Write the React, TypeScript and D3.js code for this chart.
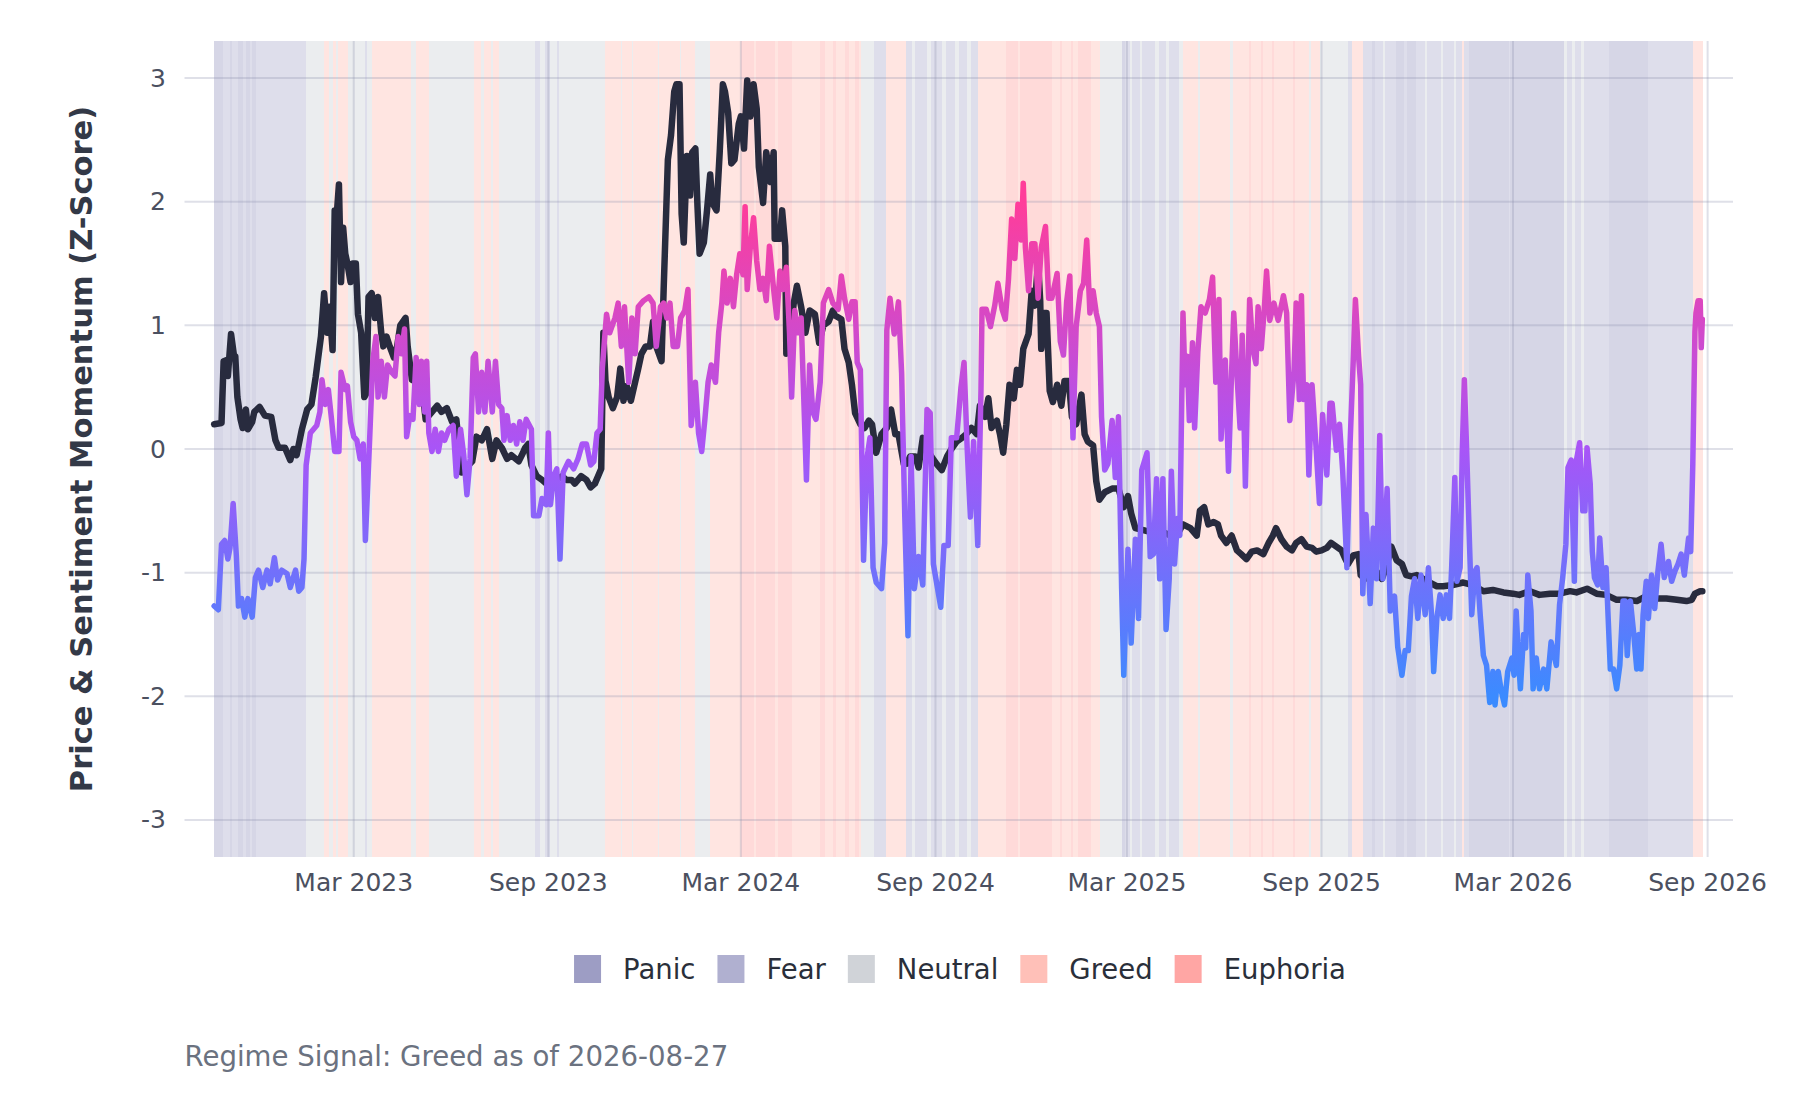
import * as d3 from "d3";
import { useMemo } from "react";

const W = 1800;
const H = 1100;
const margin = { top: 41, right: 67, bottom: 243, left: 184.5 };

// daily series, day 0 = 2022-10-20
const START_DATE = "2022-10-20";
const LAST_DAY = 1407;

const priceDays = [
  0, 7, 9, 12, 13, 16, 19, 20, 22, 25, 27, 30, 32, 36, 38, 43, 48, 54, 58, 61, 67, 72, 75, 78, 83, 88, 92, 96,
  101, 104, 107, 109, 112, 114, 116, 118, 120, 122, 124, 126, 129, 131, 134, 136, 139, 142, 144, 146, 149, 152,
  155, 158, 160, 163, 166, 170, 173, 176, 181, 183, 187, 192, 196, 200, 203, 206, 211, 215, 220, 225, 229, 234,
  244, 248, 253, 258, 263, 267, 272, 277, 281, 288, 292, 294, 297, 300, 305, 310, 314, 319, 324, 329, 333, 338,
  341, 344, 347, 352, 356, 360, 366, 368, 370, 373, 377, 381, 384, 387, 390, 394, 398, 401, 404, 408, 412, 415,
  418, 423, 425, 429, 432, 435, 437, 440, 442, 444, 447, 450, 452, 455, 457, 459, 463, 466, 469, 471, 475, 478,
  481, 483, 486, 489, 492, 496, 498, 501, 504, 507, 510, 513, 515, 519, 522, 526, 529, 530, 535, 537, 540, 541,
  544, 548, 551, 555, 559, 563, 568, 572, 576, 581, 585, 587, 593, 596, 600, 603, 606, 611, 615, 619, 622, 626,
  631, 636, 640, 644, 647, 652, 655, 658, 663, 666, 670, 674, 678, 683, 688, 693, 697, 702, 707, 711, 716, 721,
  724, 729, 732, 735, 740, 743, 746, 749, 752, 756, 759, 762, 765, 770, 773, 776, 779, 781, 782, 785, 787, 790,
  793, 797, 801, 804, 808, 811, 815, 820, 823, 826, 831, 834, 837, 842, 849, 855, 860, 864, 867, 871, 885, 897,
  904, 910, 916, 923, 929, 932, 936, 940, 945, 949, 952, 957, 962, 967, 971, 976, 981, 986, 992, 997, 1001, 1004,
  1009, 1014, 1019, 1023, 1028, 1033, 1038, 1042, 1047, 1052, 1056, 1061, 1066, 1069, 1072, 1077, 1082, 1084,
  1088, 1093, 1099, 1104, 1108, 1113, 1118, 1123, 1127, 1132, 1137, 1143, 1149, 1156, 1162, 1171, 1181, 1190,
  1200, 1209, 1219, 1228, 1234, 1244, 1253, 1263, 1272, 1282, 1288, 1298, 1307, 1316, 1326, 1335, 1345, 1354,
  1364, 1373, 1383, 1392, 1397, 1400, 1405, 1407,
];
const priceZ = [
  0.2, 0.21, 0.71, 0.72, 0.59, 0.93, 0.74, 0.75, 0.42, 0.24, 0.17, 0.32, 0.16, 0.22, 0.3, 0.34, 0.27, 0.26, 0.07,
  0.01, 0.01, -0.09, 0, -0.05, 0.16, 0.32, 0.36, 0.58, 0.91, 1.26, 0.94, 1.15, 0.8, 1.93, 1.9, 2.14, 1.35, 1.79,
  1.58, 1.5, 1.35, 1.5, 1.5, 1.09, 0.94, 0.42, 0.45, 1.23, 1.26, 1.06, 1.23, 0.94, 0.83, 0.91, 0.83, 0.74, 0.83,
  1.0, 1.06, 0.83, 0.56, 0.54, 0.54, 0.24, 0.27, 0.3, 0.35, 0.3, 0.33, 0.22, 0.24, -0.19, -0.1, 0.1, 0.07, 0.16,
  -0.08, 0.07, 0.01, -0.08, -0.05, -0.1, -0.03, 0.01, 0.04, -0.13, -0.22, -0.25, -0.28, -0.31, -0.25, -0.22,
  -0.25, -0.25, -0.28, -0.25, -0.22, -0.25, -0.31, -0.28, -0.16, 0.94, 0.55, 0.42, 0.33, 0.42, 0.65, 0.39, 0.51,
  0.39, 0.54, 0.65, 0.77, 0.83, 0.83, 1.03, 0.83, 0.71, 1.29, 2.34, 2.54, 2.89, 2.95, 2.95, 1.9, 1.67, 2.37, 2.05,
  2.4, 2.43, 1.96, 1.58, 1.67, 1.93, 2.22, 1.99, 1.93, 2.4, 2.95, 2.89, 2.72, 2.31, 2.34, 2.63, 2.69, 2.43, 2.98,
  2.69, 2.95, 2.75, 2.28, 1.99, 2.4, 2.16, 2.4, 1.7, 1.7, 1.93, 1.64, 0.77, 0.88, 1.18, 1.32, 1.15, 0.94, 1.12,
  1.09, 0.86, 1.0, 1.03, 1.12, 1.08, 1.05, 0.81, 0.7, 0.52, 0.29, 0.2, 0.17, 0.23, 0.2, -0.03, 0.12, 0.17, 0.32,
  0.12, 0.12, -0.12, -0.12, -0.06, -0.06, -0.15, 0.09, 0, -0.06, -0.12, -0.17, -0.06, 0, 0.06, 0.09, 0.12, 0.17,
  0.12, 0.35, 0.26, 0.41, 0.17, 0.23, 0.12, -0.03, 0.2, 0.52, 0.41, 0.64, 0.52, 0.81, 0.93, 1.28, 1.16, 1.52, 1.2,
  0.81, 1.1, 1.1, 0.47, 0.38, 0.52, 0.35, 0.55, 0.55, 0.26, 0.2, 0.44, 0.12, 0.06, 0.03, -0.26, -0.41, -0.35,
  -0.32, -0.32, -0.47, -0.38, -0.52, -0.64, -0.67, -0.67, -0.7, -0.7, -0.61, -0.64, -0.7, -0.5, -0.47, -0.61,
  -0.59, -0.61, -0.7, -0.76, -0.7, -0.82, -0.85, -0.89, -0.83, -0.82, -0.85, -0.76, -0.7, -0.64, -0.73, -0.79,
  -0.82, -0.76, -0.73, -0.79, -0.8, -0.83, -0.82, -0.8, -0.76, -0.79, -0.82, -0.88, -0.93, -0.86, -0.85, -1.02,
  -1.05, -1.02, -0.99, -1.05, -0.96, -0.79, -0.9, -0.93, -1.02, -1.03, -1.02, -1.05, -1.08, -1.11, -1.11, -1.1,
  -1.08, -1.1, -1.15, -1.14, -1.16, -1.17, -1.18, -1.15, -1.18, -1.17, -1.17, -1.15, -1.16, -1.13, -1.17, -1.18,
  -1.22, -1.22, -1.23, -1.19, -1.21, -1.21, -1.22, -1.23, -1.22, -1.17, -1.15, -1.15,
];

const sentimentDays = [
  0, 4, 7, 10, 13, 15, 18, 21, 23, 26, 29, 32, 36, 39, 42, 46, 50, 53, 57, 60, 64, 69, 72, 77, 80, 83, 85, 87, 91,
  94, 97, 100, 102, 105, 108, 111, 114, 118, 120, 124, 126, 129, 132, 135, 138, 141, 143, 145, 147, 150, 153, 155,
  158, 161, 164, 168, 171, 174, 177, 180, 182, 185, 188, 191, 194, 196, 199, 201, 203, 206, 209, 212, 215, 218,
  222, 226, 229, 233, 236, 239, 242, 245, 247, 250, 253, 256, 259, 263, 266, 269, 272, 274, 277, 280, 283, 286,
  289, 292, 295, 300, 302, 307, 310, 314, 316, 318, 321, 324, 327, 330, 335, 340, 344, 348, 352, 356, 359, 362,
  365, 367, 371, 374, 379, 382, 385, 388, 392, 395, 398, 401, 406, 411, 415, 418, 422, 425, 428, 431, 434, 438,
  441, 445, 448, 451, 455, 458, 461, 464, 467, 470, 474, 477, 480, 482, 485, 488, 491, 494, 497, 500, 502, 504,
  507, 510, 513, 516, 519, 522, 525, 529, 532, 535, 538, 541, 544, 546, 549, 552, 555, 560, 563, 566, 569, 573,
  576, 581, 585, 590, 593, 596, 600, 603, 606, 608, 611, 614, 617, 620, 623, 626, 631, 634, 636, 639, 643, 647,
  650, 653, 656, 659, 662, 666, 670, 674, 677, 680, 683, 687, 690, 694, 697, 702, 706, 709, 712, 715, 718, 722,
  725, 726, 730, 734, 738, 741, 745, 748, 751, 754, 757, 760, 763, 765, 767, 770, 773, 776, 779, 782, 786, 789,
  792, 797, 800, 803, 806, 809, 812, 815, 819, 822, 825, 828, 831, 834, 837, 839, 842, 845, 849, 852, 855, 858,
  860, 864, 867, 871, 874, 877, 882, 885, 888, 891, 894, 897, 900, 903, 905, 908, 911, 913, 916, 918, 920, 922,
  925, 927, 930, 933, 937, 941, 944, 947, 950, 952, 956, 959, 962, 964, 967, 970, 972, 975, 979, 982, 985, 987,
  990, 993, 995, 998, 1002, 1006, 1011, 1014, 1017, 1021, 1023, 1026, 1028, 1030, 1033, 1035, 1038, 1042, 1045,
  1048, 1052, 1055, 1057, 1061, 1064, 1067, 1071, 1074, 1077, 1079, 1082, 1084, 1086, 1089, 1093, 1096, 1099,
  1102, 1105, 1109, 1112, 1116, 1119, 1123, 1126, 1129, 1132, 1135, 1138, 1141, 1145, 1148, 1151, 1153, 1156,
  1159, 1162, 1165, 1168, 1170, 1173, 1175, 1178, 1180, 1182, 1184, 1187, 1189, 1192, 1194, 1197, 1200, 1203,
  1206, 1209, 1211, 1214, 1217, 1220, 1223, 1227, 1229, 1231, 1233, 1235, 1238, 1240, 1242, 1245, 1247, 1250,
  1253, 1257, 1260, 1264, 1269, 1272, 1275, 1278, 1280, 1283, 1286, 1288, 1291, 1294, 1296, 1298, 1301, 1303,
  1305, 1308, 1310, 1313, 1316, 1320, 1323, 1326, 1329, 1332, 1334, 1336, 1339, 1342, 1345, 1347, 1349, 1351,
  1354, 1356, 1359, 1362, 1365, 1368, 1371, 1375, 1378, 1381, 1384, 1387, 1390, 1394, 1396, 1398, 1400, 1401,
  1403, 1405, 1406, 1407,
];
const sentimentZ = [
  -1.27, -1.3, -0.77, -0.74, -0.89, -0.8, -0.44, -0.86, -1.27, -1.21, -1.36, -1.21, -1.36, -1.04, -0.98, -1.12,
  -0.98, -1.09, -0.88, -1.06, -0.98, -1.01, -1.12, -0.98, -1.15, -1.12, -0.89, -0.13, 0.13, 0.16, 0.19, 0.3, 0.56,
  0.36, 0.48, 0.24, -0.02, -0.02, 0.62, 0.48, 0.51, 0.22, 0.1, 0.07, -0.08, 0.04, -0.74, -0.34, 0.07, 0.71, 0.91,
  0.42, 0.71, 0.42, 0.68, 0.62, 0.59, 0.91, 0.77, 0.97, 0.1, 0.27, 0.24, 0.74, 0.36, 0.71, 0.3, 0.71, 0.13, -0.02,
  0.16, -0.02, 0.13, 0.07, 0.16, 0.19, -0.22, 0.16, -0.05, -0.37, -0.08, 0.74, 0.77, 0.3, 0.62, 0.3, 0.71, 0.3,
  0.71, 0.36, 0.33, 0.07, 0.27, 0.07, 0.19, 0.04, 0.22, 0.07, 0.24, 0.16, -0.54, -0.54, -0.4, -0.45, 0.13, -0.45,
  -0.22, -0.16, -0.89, -0.19, -0.1, -0.16, -0.08, 0.04, 0.04, -0.13, -0.1, 0.13, 0.16, 0.65, 1.09, 0.94, 1.06,
  1.18, 0.83, 1.15, 0.54, 1.06, 0.77, 1.15, 1.2, 1.23, 1.18, 0.83, 1.15, 1.18, 1.06, 1.18, 0.83, 0.83, 1.06, 1.12,
  1.29, 0.19, 0.54, 0.13, -0.02, 0.24, 0.54, 0.68, 0.54, 0.94, 1.18, 1.44, 1.18, 1.38, 1.15, 1.41, 1.58, 1.41,
  1.96, 1.29, 1.64, 1.87, 1.52, 1.29, 1.38, 1.2, 1.64, 1.29, 1.06, 1.44, 1.29, 1.47, 0.94, 0.42, 1.12, 0.94, 1.06,
  -0.25, 0.68, 0.3, 0.24, 0.54, 1.18, 1.29, 1.18, 1.13, 1.4, 1.22, 1.05, 1.19, 1.19, 0.7, 0.64, -0.9, -0.09, 0.09,
  -0.96, -1.08, -1.13, -0.76, 0.96, 1.22, 0.93, 1.19, 0.61, -0.55, -1.51, -0.06, -1.13, -0.87, -1.1, 0.32, 0.29,
  -0.93, -1.08, -1.28, -0.78, -0.78, 0.09, 0.09, 0.49, 0.7, 0, -0.55, 0.06, -0.78, 0.47, 1.13, 1.13, 0.99, 1.16,
  1.34, 1.13, 1.05, 1.37, 1.86, 1.54, 1.98, 1.69, 2.15, 1.63, 1.28, 1.66, 1.66, 1.22, 1.63, 1.8, 1.22, 1.22, 1.42,
  0.87, 0.76, 1.19, 1.4, 0.09, 0.99, 1.28, 1.34, 1.69, 1.1, 1.28, 1.1, 0.99, 0.26, -0.17, -0.12, 0.23, -0.23, 0.26,
  -1.13, -1.83, -0.81, -1.57, -0.73, -1.37, -0.17, -0.03, -0.87, -0.85, -0.24, -1.05, -0.24, -1.46, -1.05, -0.18,
  -0.93, -0.56, -0.7, 1.1, 0.52, 0.75, 0.23, 0.86, 0.17, 0.78, 1.15, 1.1, 1.21, 1.39, 0.54, 1.21, 0.08, 0.72,
  -0.18, 0.63, 1.1, 0.6, 0.17, 0.92, -0.3, 1.21, 0.81, 0.69, 1.15, 0.81, 1.15, 1.44, 1.04, 1.18, 1.04, 1.24, 1.1,
  0.23, 0.63, 1.18, 0.4, 1.24, 0.4, 0.52, -0.21, 0.52, -0.01, -0.44, 0.28, -0.21, 0.37, 0.37, -0.01, 0.2, -0.18,
  -0.96, 0.05, 0.72, 1.21, 0.75, 0.52, -1.17, -0.53, -1.25, -0.64, -1.05, 0.11, -1.05, -0.32, -1.31, -1.19, -1.6,
  -1.83, -1.63, -1.63, -1.19, -1.05, -1.37, -1.02, -1.34, -0.96, -1.34, -1.8, -1.37, -1.18, -1.37, -1.18, -1.37,
  -0.96, -0.23, -1.07, -0.96, -0.04, 0.56, 0.04, -0.8, -1.34, -0.99, -0.96, -1.34, -1.67, -1.75, -2.05, -1.8,
  -2.07, -1.8, -1.96, -2.07, -1.8, -1.69, -1.83, -1.31, -1.67, -1.94, -1.5, -1.61, -1.02, -1.31, -1.94, -1.69,
  -1.94, -1.78, -1.94, -1.56, -1.75, -1.26, -1.04, -0.77, -0.15, -0.09, -1.07, -0.09, 0.05, -0.5, -0.5, 0.01,
  -0.28, -0.83, -1.04, -1.1, -0.72, -1.12, -0.96, -1.78, -1.78, -1.94, -1.75, -1.23, -1.23, -1.67, -1.23, -1.48,
  -1.78, -1.5, -1.78, -1.34, -1.07, -1.37, -1.02, -1.29, -0.99, -0.77, -1.04, -0.91, -1.07, -0.99, -0.93, -0.85,
  -1.02, -0.72, -0.83, -0.12, 0.95, 1.1, 1.2, 1.2, 0.82, 1.05,
];

// regime segments: each runs from its start day to the next start
const regimeStartDays = [
  0, 8, 15, 17, 23, 27, 30, 34, 36, 40, 87, 104, 109, 112, 115, 117, 127, 143, 145, 149, 186, 191, 203, 246, 252,
  255, 262, 264, 269, 303, 308, 313, 318, 324, 326, 370, 385, 386, 395, 396, 420, 421, 440, 441, 455, 469, 498,
  510, 512, 530, 533, 546, 573, 578, 585, 588, 596, 600, 606, 610, 612, 624, 635, 654, 660, 663, 674, 678, 688,
  692, 700, 704, 712, 716, 722, 749, 760, 762, 792, 800, 802, 810, 812, 817, 829, 838, 858, 861, 866, 868, 875,
  877, 890, 893, 900, 903, 912, 916, 930, 932, 960, 963, 978, 980, 990, 992, 1000, 1002, 1020, 1022, 1035, 1037,
  1046, 1072, 1076, 1086, 1095, 1098, 1105, 1107, 1117, 1125, 1128, 1136, 1145, 1147, 1160, 1162, 1172, 1174,
  1180, 1182, 1186, 1224, 1225, 1276, 1279, 1284, 1287, 1292, 1295, 1319, 1356, 1398,
];
const regimeCodes = [
  "P", "F", "P", "F", "P", "F", "P", "F", "P", "F", "N", "G", "N", "G", "N", "G", "N", "F", "N", "G", "N", "G",
  "N", "G", "N", "G", "N", "G", "N", "F", "N", "F", "N", "F", "N", "G", "N", "G", "N", "G", "N", "G", "N", "G",
  "N", "G", "E", "G", "E", "G", "E", "G", "E", "G", "E", "G", "E", "G", "E", "G", "N", "F", "G", "F", "N", "F",
  "N", "F", "N", "F", "N", "F", "N", "F", "G", "E", "G", "E", "G", "E", "G", "E", "G", "E", "G", "N", "P", "F",
  "N", "F", "N", "F", "N", "F", "N", "F", "N", "G", "N", "G", "N", "G", "E", "G", "E", "G", "E", "G", "E", "G",
  "N", "G", "N", "F", "G", "F", "P", "F", "N", "F", "P", "F", "P", "F", "N", "F", "N", "F", "N", "F", "G", "F",
  "P", "F", "P", "N", "F", "N", "F", "N", "F", "P", "F", "G",
];

const regimeNames = ["Panic", "Fear", "Neutral", "Greed", "Euphoria"];
const regimeKeys = ["P", "F", "N", "G", "E"];
const regimeColors = ["#9d9dc4", "#b0b0d0", "#d0d3d8", "#ffc0b8", "#ffa6a4"];

const xTickDates = [
  "2023-03-01", "2023-09-01", "2024-03-01", "2024-09-01", "2025-03-01", "2025-09-01", "2026-03-01", "2026-09-01",
];
const yTicks = [-3, -2, -1, 0, 1, 2, 3];

const FONT = "'DejaVu Sans', Verdana, sans-serif";

function measure(text: string, font: string) {
  const ctx = document.createElement("canvas").getContext("2d");
  if (!ctx) return text.length * 15;
  ctx.font = font;
  return ctx.measureText(text).width;
}

export default function App() {
  const parse = d3.utcParse("%Y-%m-%d");
  const start = parse(START_DATE) as Date;
  const dayDate = (d: number) => d3.utcDay.offset(start, d);

  const x = d3
    .scaleUtc()
    .domain([dayDate(-28), dayDate(1436)])
    .range([margin.left, W - margin.right]);
  const y = d3.scaleLinear().domain([-3.3, 3.3]).range([H - margin.bottom, margin.top]);

  const line = d3
    .line<[number, number]>()
    .x((d) => x(dayDate(d[0])))
    .y((d) => y(d[1]));

  const pricePath = line(priceDays.map((d, i) => [d, priceZ[i]]) as [number, number][]) ?? "";
  const sentimentPath = line(sentimentDays.map((d, i) => [d, sentimentZ[i]]) as [number, number][]) ?? "";

  const bands = regimeStartDays.map((s, i) => {
    const e = i < regimeStartDays.length - 1 ? regimeStartDays[i + 1] : LAST_DAY + 1;
    const k = regimeKeys.indexOf(regimeCodes[i]);
    return { x0: x(dayDate(s)), x1: x(dayDate(e)), color: regimeColors[k] };
  });

  const legend = useMemo(() => {
    const font = `27.5px ${FONT}`;
    const items = regimeNames.map((name, i) => ({ name, color: regimeColors[i], w: measure(name, font) }));
    const total = items.reduce((acc, it) => acc + 49 + it.w, 0) + 22 * (items.length - 1);
    let cur = 960 - total / 2;
    return items.map((it) => {
      const pos = { ...it, x: cur };
      cur += 49 + it.w + 22;
      return pos;
    });
  }, []);

  const plotTop = margin.top;
  const plotBottom = H - margin.bottom;
  const gridStroke = "rgba(140,145,172,0.28)";

  return (
    <svg
      width={W}
      height={H}
      viewBox={`0 0 ${W} ${H}`}
      style={{ position: "absolute", left: 0, top: 0, display: "block", background: "#fff" }}
      fontFamily={FONT}
    >
      <defs>
        <linearGradient id="sentGrad" gradientUnits="userSpaceOnUse" x1={0} x2={0} y1={y(-2)} y2={y(2)}>
          <stop offset="0" stopColor="#3b8bff" />
          <stop offset="0.5" stopColor="#a855f7" />
          <stop offset="1" stopColor="#ff3d9a" />
        </linearGradient>
      </defs>

      <g shapeRendering="crispEdges">
        {bands.map((b, i) => (
          <rect
            key={i}
            x={b.x0}
            y={plotTop}
            width={Math.max(b.x1 - b.x0, 0.5)}
            height={plotBottom - plotTop}
            fill={b.color}
            opacity={0.42}
          />
        ))}
      </g>

      <g>
        {yTicks.map((t) => (
          <line
            key={t}
            x1={margin.left}
            x2={W - margin.right}
            y1={y(t)}
            y2={y(t)}
            stroke={gridStroke}
            strokeWidth={2}
          />
        ))}
        {xTickDates.map((t) => {
          const px = x(parse(t) as Date);
          return <line key={t} x1={px} x2={px} y1={plotTop} y2={plotBottom} stroke={gridStroke} strokeWidth={2} />;
        })}
      </g>

      <path d={pricePath} fill="none" stroke="#282b3e" strokeWidth={6.5} strokeLinejoin="round" strokeLinecap="round" />
      <path
        d={sentimentPath}
        fill="none"
        stroke="url(#sentGrad)"
        strokeWidth={5.5}
        strokeLinejoin="round"
        strokeLinecap="round"
      />

      <g fontSize={25} fill="#4b5060">
        {yTicks.map((t) => (
          <text key={t} x={166} y={y(t)} textAnchor="end" dominantBaseline="central">
            {t}
          </text>
        ))}
        {xTickDates.map((t) => (
          <text key={t} x={x(parse(t) as Date)} y={891} textAnchor="middle">
            {d3.utcFormat("%b %Y")(parse(t) as Date)}
          </text>
        ))}
      </g>

      <text
        transform={`translate(81,${(plotTop + plotBottom) / 2}) rotate(-90)`}
        textAnchor="middle"
        dominantBaseline="central"
        fontSize={30.5}
        fontWeight="bold"
        fill="#333947"
      >
        Price &amp; Sentiment Momentum (Z-Score)
      </text>

      <g fontSize={27.5} fill="#2a2f3a">
        {legend.map((it) => (
          <g key={it.name}>
            <rect x={it.x} y={955} width={27} height={28} fill={it.color} />
            <text x={it.x + 49} y={969} dominantBaseline="central">
              {it.name}
            </text>
          </g>
        ))}
      </g>

      <text x={margin.left} y={1066} fontSize={27.6} fill="#6b7280">
        Regime Signal: Greed as of 2026-08-27
      </text>
    </svg>
  );
}
